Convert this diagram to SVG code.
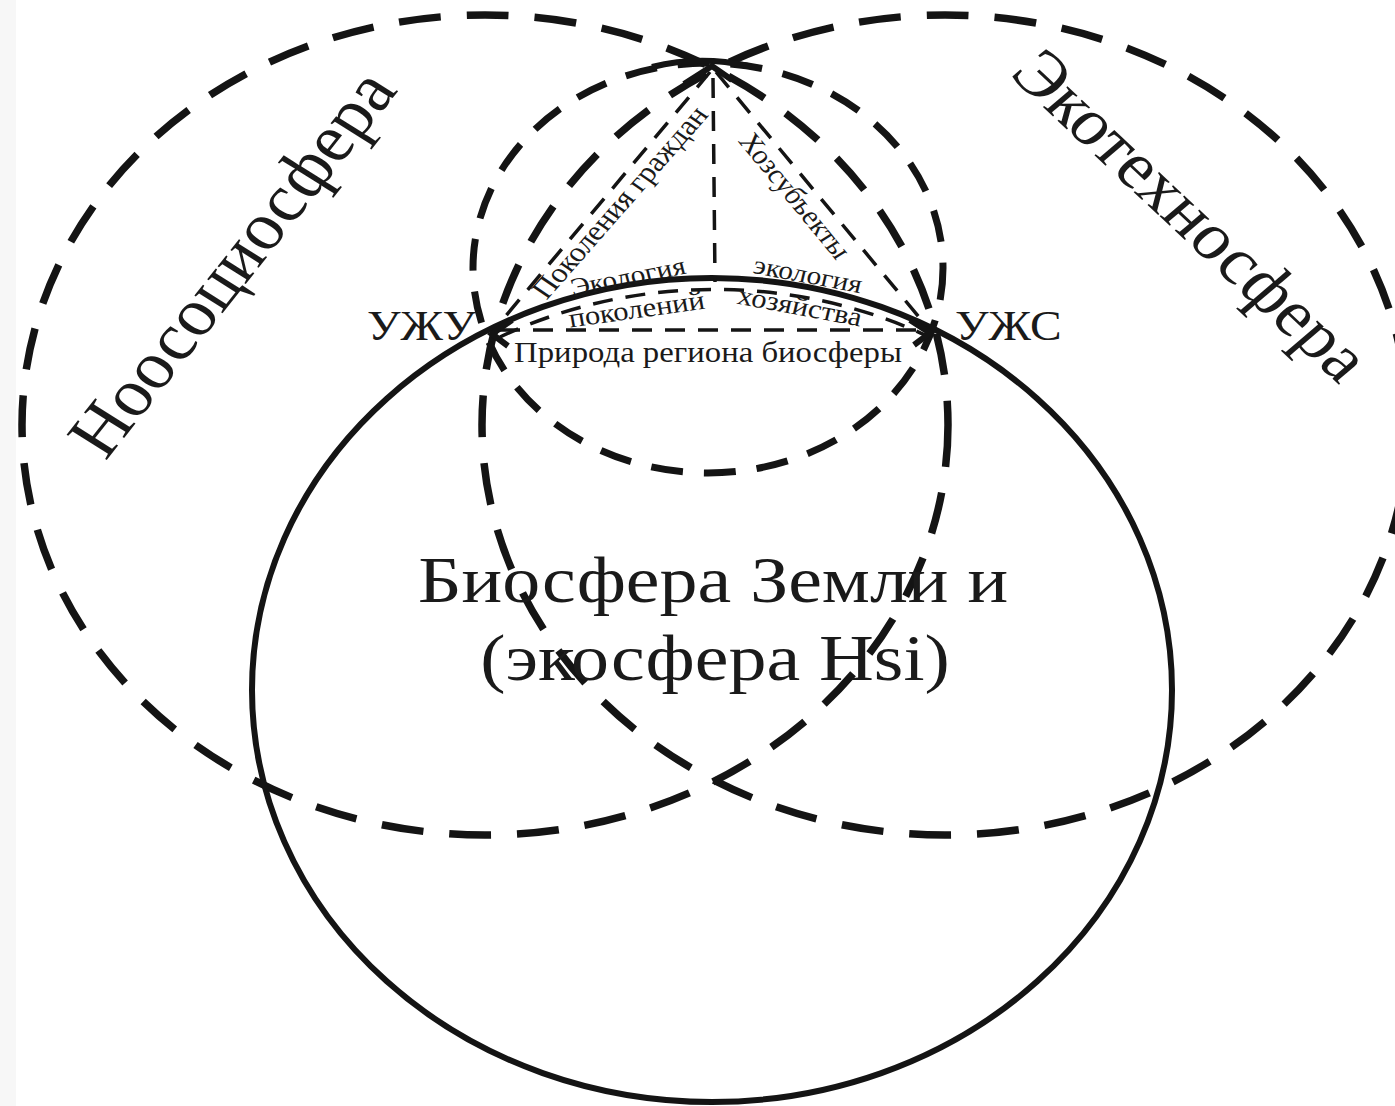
<svg xmlns="http://www.w3.org/2000/svg" width="1395" height="1106" viewBox="0 0 1395 1106">
<style>
.bg{fill:#ffffff}
.strip{fill:#f7f7f7}
.big{fill:none;stroke:#141414;stroke-width:7.5;stroke-dasharray:42 26}
.small{fill:none;stroke:#141414;stroke-width:7;stroke-dasharray:32 21}
.solid{fill:none;stroke:#141414;stroke-width:6}
.thin{fill:none;stroke:#141414;stroke-width:3.5;stroke-dasharray:20 13}
.head{fill:none;stroke:#141414;stroke-width:6;stroke-linejoin:miter}
text{font-family:"Liberation Serif","Times New Roman",serif;fill:#1a1a1a}
</style>
<rect class="bg" x="0" y="0" width="1395" height="1106"/>
<rect class="strip" x="0" y="0" width="16" height="1106"/>

<g id="noosociosphere">
  <ellipse class="big" cx="485" cy="425" rx="463" ry="410"/>
  <text transform="translate(252,276) scale(1.12,1) rotate(-54.8)" text-anchor="middle" font-size="67">Ноосоциосфера</text>
</g>

<g id="ecotechnosphere">
  <ellipse class="big" cx="945" cy="425" rx="463" ry="410"/>
  <text transform="translate(1174,230) scale(1.12,1) rotate(46.4)" text-anchor="middle" font-size="66">Экотехносфера</text>
</g>

<g id="region">
  <ellipse class="small" cx="708" cy="268" rx="235" ry="205"/>
</g>

<g id="biosphere">
  <ellipse class="solid" cx="712" cy="690" rx="460" ry="412"/>
  <text transform="translate(713,602) scale(1.15,1)" text-anchor="middle" font-size="66">Биосфера Земли и</text>
  <text transform="translate(715,680) scale(1.15,1)" text-anchor="middle" font-size="66">(экосфера Hsi)</text>
</g>

<g id="connectors">
  <path class="solid" d="M652,67 Q700,55 748,66" stroke-width="7"/>
  <line class="thin" x1="710" y1="72" x2="494" y2="330"/>
  <line class="thin" x1="716" y1="72" x2="928" y2="328"/>
  <line class="thin" x1="713" y1="78" x2="715" y2="282"/>
  <line class="thin" x1="500" y1="330" x2="925" y2="330"/>
  <path class="thin" d="M500,337 A460 412 0 0 1 925,335"/>
  <polyline class="head" points="684,84 712,66 732,80"/>
  <polyline class="head" points="512,320 492,334 508,346" stroke-width="5"/>
  <polyline class="head" points="910,320 930,333 914,345" stroke-width="5"/>
</g>

<g id="labels">
  <text transform="translate(476,340) scale(1.13,1)" text-anchor="end" font-size="42">УЖУ</text>
  <text transform="translate(955,340) scale(1.13,1)" font-size="42">УЖС</text>
  <text transform="translate(628,208) scale(1.13,1) rotate(-52.2)" text-anchor="middle" font-size="28">Поколения граждан</text>
  <text transform="translate(787,201) scale(1.13,1) rotate(53.9)" text-anchor="middle" font-size="27">Хозсубъекты</text>
  <text transform="translate(630,285) scale(1.13,1) rotate(-13)" text-anchor="middle" font-size="26">Экология</text>
  <text transform="translate(638,318) scale(1.13,1) rotate(-9)" text-anchor="middle" font-size="27">поколений</text>
  <text transform="translate(806,283) scale(1.13,1) rotate(12)" text-anchor="middle" font-size="26">экология</text>
  <text transform="translate(798,315) scale(1.13,1) rotate(12)" text-anchor="middle" font-size="27">хозяйства</text>
  <text transform="translate(708,362) scale(1.13,1)" text-anchor="middle" font-size="29">Природа региона биосферы</text>
</g>
</svg>
